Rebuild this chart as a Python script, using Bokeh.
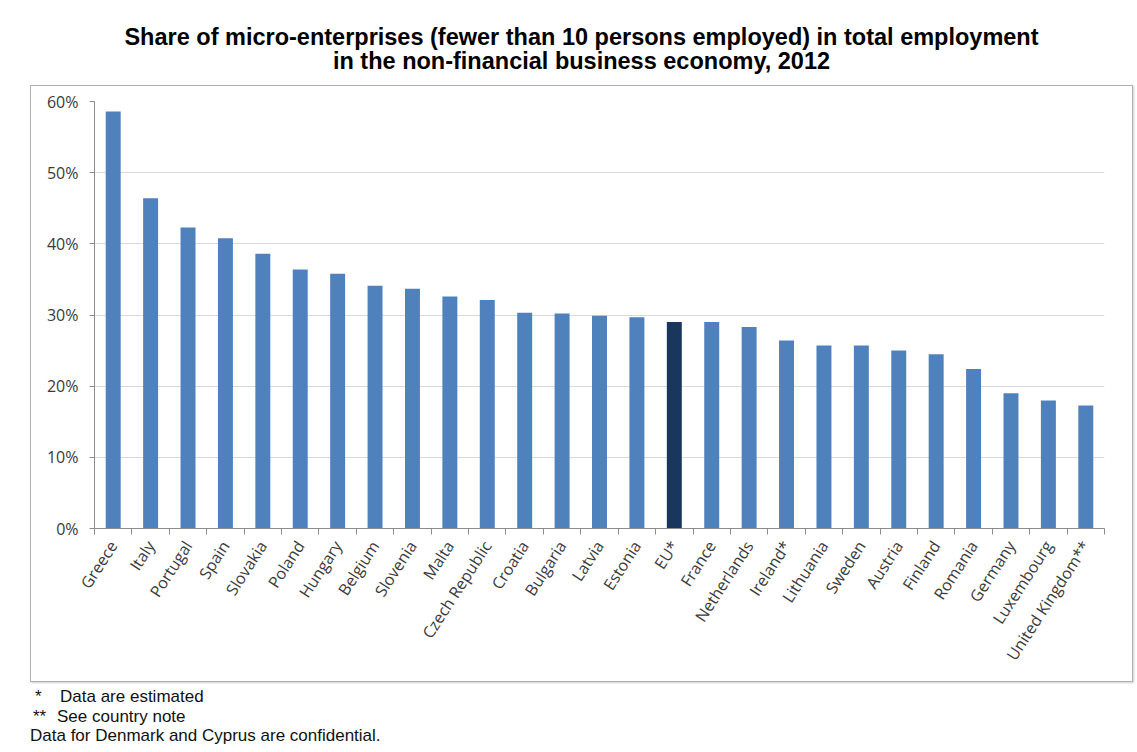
import math
from bokeh.plotting import figure
from bokeh.models import Div, FixedTicker, NumeralTickFormatter, ColumnDataSource, Range1d
from bokeh.layouts import column
from bokeh.embed import file_html
from bokeh.resources import INLINE

# ---- data ----
countries = ["Greece", "Italy", "Portugal", "Spain", "Slovakia", "Poland", "Hungary",
             "Belgium", "Slovenia", "Malta", "Czech Republic", "Croatia", "Bulgaria",
             "Latvia", "Estonia", "EU*", "France", "Netherlands", "Ireland*", "Lithuania",
             "Sweden", "Austria", "Finland", "Romania", "Germany", "Luxembourg",
             "United Kingdom**"]
shares_pct = [58.6, 46.4, 42.3, 40.8, 38.6, 36.4, 35.8,
              34.1, 33.7, 32.6, 32.1, 30.3, 30.2,
              29.9, 29.7, 29.0, 29.0, 28.3, 26.4, 25.7,
              25.7, 25.0, 24.5, 22.4, 19.0, 18.0,
              17.3]
highlight = "EU*"
y_ticks_pct = [0, 10, 20, 30, 40, 50, 60]

title_lines = ["Share of micro-enterprises (fewer than 10 persons employed) in total employment",
               "in the non-financial business economy, 2012"]
notes = [("*", "Data are estimated"), ("**", "See country note")]
note_last = "Data for Denmark and Cyprus are confidential."

BAR = "#4f81bd"
EU_COLOR = "#1a365d"
AXIS = "#8c8c8c"
GRID = "#d9d9d9"
LABEL = "#3a3a3a"

n = len(countries)
xs = list(range(n))
src = ColumnDataSource(dict(
    x=xs,
    top=[v / 100 for v in shares_pct],
    color=[EU_COLOR if c == highlight else BAR for c in countries],
    name=countries,
))

title = Div(
    text="<br>".join(title_lines),
    width=1103, height=77, margin=(8, 0, 0, 30),
    styles={"text-align": "center", "font-family": "Liberation Sans, Arial, sans-serif",
            "font-weight": "bold", "font-size": "23.5px", "line-height": "24px",
            "padding-top": "17px", "color": "#000", "width": "1103px",
            "white-space": "nowrap"},
)

p = figure(width=1103, height=597,
           x_range=Range1d(-0.5, n - 0.5), y_range=Range1d(0, 0.6),
           output_backend="svg", toolbar_location=None,
           min_border_left=63, min_border_right=30, min_border_top=15, min_border_bottom=155,
           margin=(0, 0, 0, 30),
           styles={"border": "1.5px solid #b0b0b0", "box-shadow": "1px 1px 2px #cccccc"})
p.outline_line_color = None
p.vbar(x="x", top="top", width=0.4, fill_color="color", line_color=None, source=src)

# x axis
p.xaxis.ticker = FixedTicker(ticks=xs, minor_ticks=[i - 0.5 for i in range(n + 1)])
p.xaxis.major_label_overrides = {i: c for i, c in enumerate(countries)}
p.xaxis.major_tick_line_color = None
p.xaxis.major_tick_out = 6
p.xaxis.minor_tick_line_color = AXIS
p.xaxis.minor_tick_out = 6
p.xaxis.minor_tick_in = 0
p.xaxis.axis_line_color = AXIS
p.xaxis.major_label_orientation = 57 * math.pi / 180
p.xaxis.major_label_standoff = 8
p.xaxis.major_label_text_font = "Open Sans"
p.xaxis.major_label_text_font_size = "16px"
p.xaxis.major_label_text_color = LABEL
p.xgrid.grid_line_color = None

# y axis
p.yaxis.ticker = FixedTicker(ticks=[t / 100 for t in y_ticks_pct])
p.yaxis.formatter = NumeralTickFormatter(format="0%")
p.yaxis.axis_line_color = AXIS
p.yaxis.major_tick_line_color = AXIS
p.yaxis.major_tick_out = 5
p.yaxis.major_tick_in = 0
p.yaxis.minor_tick_line_color = None
p.yaxis.major_label_standoff = 11
p.yaxis.major_label_text_font = "Open Sans"
p.yaxis.major_label_text_font_size = "16px"
p.yaxis.major_label_text_color = LABEL
p.ygrid.ticker = FixedTicker(ticks=[t / 100 for t in y_ticks_pct])
p.ygrid.grid_line_color = GRID
p.ygrid.grid_line_width = 1

note_html = "".join(
    f'<div><span style="display:inline-block;width:{30 if len(s)==1 else 27}px;padding-left:{5 if len(s)==1 else 3}px">{s}</span>{t}</div>'
    for s, t in notes
) + f"<div>{note_last}</div>"
foot = Div(text=note_html, width=600, height=62, margin=(0, 0, 0, 30),
           styles={"font-family": "Liberation Sans, Arial, sans-serif", "font-size": "17px",
                   "line-height": "19.5px", "padding-top": "5px", "color": "#111",
                   "white-space": "nowrap"})

layout = column(title, p, foot, spacing=0)
open("out.html", "w").write(file_html(layout, INLINE))
